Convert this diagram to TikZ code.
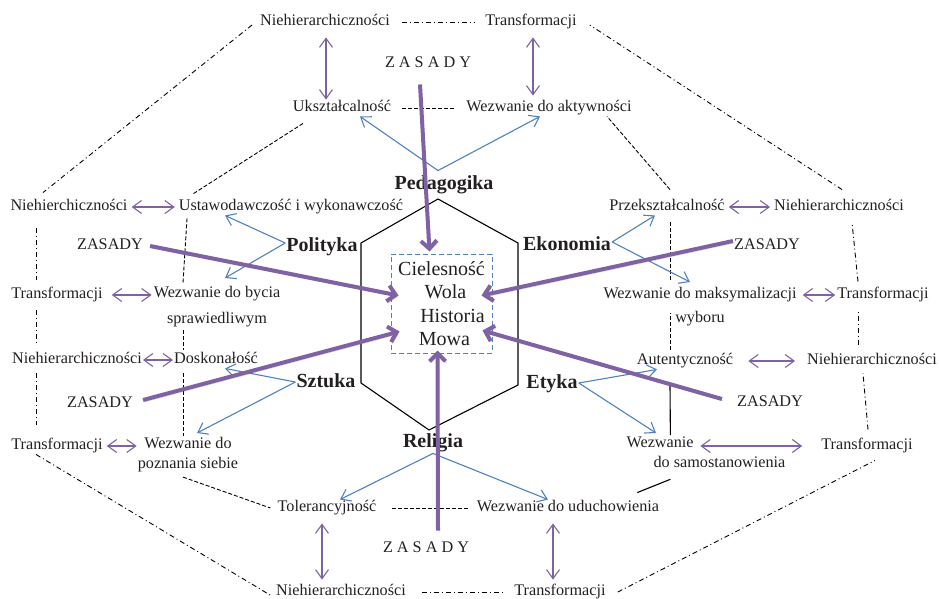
\documentclass[tikz,border=0pt]{standalone}
\usepackage{fontspec}
\setmainfont{Liberation Serif}
\usetikzlibrary{arrows.meta}
\definecolor{callBlue}{HTML}{4F81BD}
\definecolor{rulePurple}{HTML}{7F62A3}
\definecolor{inkGray}{HTML}{231F20}
\begin{document}
\begin{tikzpicture}[x=1pt,y=-1pt,%%
  textStyle/.style={inner sep=1pt,text=inkGray,font=\fontsize{16.2}{20}\selectfont,text height=11pt,text depth=3.5pt},%%
  wrapStyle/.style={inner sep=1pt,text=inkGray,font=\fontsize{16.2}{20}\selectfont,align=center,anchor=north},%%
  fieldStyle/.style={inner sep=1pt,text=inkGray,font=\fontsize{20}{24}\selectfont\bfseries,text height=14pt,text depth=4.5pt},%%
  coreStyle/.style={draw=callBlue,line width=1pt,dash pattern=on 5pt off 3pt,minimum width=101pt,minimum height=99pt,inner sep=0pt,text=inkGray,font=\fontsize{20}{23.5}\selectfont,align=center},%%
  hexStyle/.style={black,line width=1.1pt,line join=miter},%%
  ringStyle/.style={black,line width=0.9pt,dash pattern=on 4pt off 2pt},%%
  solidStyle/.style={black,line width=1.1pt},%%
  outerStyle/.style={black,line width=0.9pt,dash pattern=on 5pt off 3pt on 1pt off 3pt},%%
  callStyle/.style={callBlue,line width=1.1pt,-{Straight Barb[length=9pt,width=13pt]}},%%
  pairStyle/.style={rulePurple,line width=1.1pt,shorten <=3pt,shorten >=3pt,{Straight Barb[length=9pt,width=13pt]}-{Straight Barb[length=9pt,width=13pt]}},%%
  ruleStyle/.style={rulePurple,line width=4pt,-{Straight Barb[length=8pt,width=16pt]},%%
    preaction={draw=black,opacity=0.18,transform canvas={shift={(1.5pt,-2pt)}}}}
]
\useasboundingbox (0,0) rectangle (939,599);
%%
%% The hexagon and its core.
\draw[hexStyle] (438,199) -- (518,243) -- (518,385) -- (429,430) -- (361,383) -- (361,243) -- cycle;
\node[coreStyle] (core) at (441.5,303.5) {Cielesność\\\hspace*{8pt}Wola\\\hspace*{22pt}Historia\\\hspace*{6pt}Mowa};
%%
%% Fields at the corners.
\node[fieldStyle] (peda) at (444,185) {Pedagogika};
\node[fieldStyle] (pol) at (322,247) {Polityka};
\node[fieldStyle] (eko) at (567,246) {Ekonomia};
\node[fieldStyle] (szt) at (326,383) {Sztuka};
\node[fieldStyle] (ety) at (552,384) {Etyka};
\node[fieldStyle] (rel) at (433,443) {Religia};
%%
%% Top.
\node[textStyle] (nhTop) at (325,22) {Niehierarchiczności};
\node[textStyle] (trTop) at (531,22) {Transformacji};
\node[textStyle] (zasTop) at (428,64) {Z A S A D Y};
\node[textStyle] (uksz) at (342,108) {Ukształcalność};
\node[textStyle] (akt) at (549,108) {Wezwanie do aktywności};
%%
%% Left.
\node[textStyle] (nhL1) at (69,207) {Niehierchiczności};
\node[textStyle] (ustaw) at (291,207) {Ustawodawczość i wykonawczość};
\node[textStyle] (zasL1) at (110,246) {ZASADY};
\node[textStyle] (trL1) at (57,295) {Transformacji};
\node[wrapStyle] (byc) at (217,285) {Wezwanie do bycia\\[6pt]sprawiedliwym};
\node[textStyle] (nhL2) at (77,360) {Niehierarchiczności};
\node[textStyle] (dosk) at (216,360) {Doskonałość};
\node[textStyle] (zasL2) at (100,404) {ZASADY};
\node[textStyle] (trL2) at (57,446) {Transformacji};
\node[wrapStyle] (pozn) at (188,436) {Wezwanie do\\poznania siebie};
%%
%% Bottom.
\node[textStyle] (tol) at (327,508) {Tolerancyjność};
\node[textStyle] (udu) at (568,508) {Wezwanie do uduchowienia};
\node[textStyle] (zasBot) at (426,549) {Z A S A D Y};
\node[textStyle] (nhBot) at (341,592) {Niehierarchiczności};
\node[textStyle] (trBot) at (560,592) {Transformacji};
%%
%% Right.
\node[textStyle] (prz) at (667,207) {Przekształcalność};
\node[textStyle] (nhR1) at (839,207) {Niehierarchiczności};
\node[textStyle] (zasR1) at (767,246) {ZASADY};
\node[wrapStyle] (maks) at (700,286) {Wezwanie do maksymalizacji\\[4pt]wyboru};
\node[textStyle] (trR1) at (883,295) {Transformacji};
\node[textStyle] (aut) at (685,361) {Autentyczność};
\node[textStyle] (nhR2) at (872,361) {Niehierarchiczności};
\node[textStyle] (zasR2) at (770,403) {ZASADY};
\node[wrapStyle,align=left] (sam) at (706,436) {Wezwanie\\\hspace*{27pt}do samostanowienia};
\node[textStyle] (trR2) at (867,446) {Transformacji};
%%
%% Inner ring.
\draw[ringStyle,shorten <=10pt,shorten >=10pt] (uksz.east) -- (akt.west);
\draw[ringStyle] ([xshift=-39pt,yshift=-7pt]uksz.south) -- ([xshift=-99pt,yshift=4pt]ustaw.north);
\draw[ringStyle] ([xshift=-104pt,yshift=-3pt]ustaw.south) -- ([xshift=-34pt,yshift=2pt]byc.north);
\draw[ringStyle] ([xshift=-34pt,yshift=-2pt]byc.south) -- ([xshift=-33pt,yshift=2pt]dosk.north);
\draw[ringStyle] ([xshift=-33pt,yshift=-5pt]dosk.south) -- ([xshift=-5pt]pozn.north);
\draw[ringStyle] ([xshift=-5pt,yshift=-4pt]pozn.south) -- ([xshift=-6pt]tol.west);
\draw[ringStyle,shorten <=14pt,shorten >=8pt] (tol.east) -- (udu.west);
\draw[solidStyle] ([xshift=-23pt,yshift=7pt]udu.north east) -- ([xshift=45pt,yshift=-10pt]sam.south west);
\draw[solidStyle] ([xshift=45pt,yshift=1pt]sam.north west) -- ([xshift=-15pt,yshift=-16pt]aut.south);
\draw[ringStyle] ([xshift=-15pt,yshift=3pt]aut.north) -- ([xshift=-30pt,yshift=14pt]maks.south);
\draw[ringStyle] ([xshift=-30pt,yshift=6pt]maks.north) -- ([xshift=3pt,yshift=-7pt]prz.south);
\draw[ringStyle] ([xshift=3pt,yshift=9pt]prz.north) -- ([xshift=58pt]akt.south);
%%
%% Outer ring.
\draw[outerStyle,shorten <=11pt,shorten >=9pt] (nhTop.east) -- (trTop.west);
\draw[outerStyle] ([xshift=-7pt,yshift=-3pt]nhTop.west) -- ([xshift=-26pt,yshift=6pt]nhL1.north);
\draw[outerStyle] ([xshift=-33pt,yshift=-13pt]nhL1.south) -- ([xshift=-21pt,yshift=7pt]trL1.north);
\draw[outerStyle] ([xshift=-21pt,yshift=-7pt]trL1.south) -- ([xshift=-41pt,yshift=7pt]nhL2.north);
\draw[outerStyle] ([xshift=-41pt,yshift=-5pt]nhL2.south) -- ([xshift=-21pt,yshift=13pt]trL2.north);
\draw[outerStyle] ([xshift=-21pt]trL2.south) -- ([xshift=-5pt,yshift=-3pt]nhBot.west);
\draw[outerStyle,shorten <=15pt,shorten >=8pt] (nhBot.east) -- (trBot.west);
\draw[outerStyle] ([xshift=11pt]trBot.east) -- ([xshift=8pt,yshift=-6pt]trR2.south);
\draw[outerStyle] ([xshift=1pt,yshift=8pt]trR2.north) -- ([xshift=-9pt,yshift=-4pt]nhR2.south);
\draw[outerStyle] ([xshift=-14pt,yshift=8pt]nhR2.north) -- ([xshift=-25pt,yshift=-9pt]trR1.south);
\draw[outerStyle] ([xshift=-25pt,yshift=5pt]trR1.north) -- ([xshift=13pt,yshift=-7pt]nhR1.south);
\draw[outerStyle] ([xshift=3pt,yshift=9pt]nhR1.north) -- ([xshift=12pt,yshift=-3pt]trTop.east);
%%
%% Purple pairs.
\draw[pairStyle,shorten <=7pt,shorten >=0pt] ([xshift=1pt]nhTop.south) -- ([xshift=1pt]nhTop.south |- uksz.north);
\draw[pairStyle,shorten <=7pt,shorten >=4pt] ([xshift=2pt]trTop.south) -- ([xshift=2pt]trTop.south |- akt.north);
\draw[pairStyle] (nhL1.east) -- (ustaw.west);
\draw[pairStyle,shorten <=8pt,shorten >=1pt] (trL1.east) -- (byc.west |- trL1.east);
\draw[pairStyle,shorten <=0pt,shorten >=0pt] (nhL2.east) -- (dosk.west);
\draw[pairStyle,shorten <=3pt,shorten >=0pt] (trL2.east) -- (pozn.west |- trL2.east);
\draw[pairStyle,shorten <=7pt,shorten >=4pt] ([xshift=-5pt]tol.south) -- ([xshift=-5pt]tol.south |- nhBot.north);
\draw[pairStyle,shorten <=7pt,shorten >=4pt] ([xshift=-15pt]udu.south) -- ([xshift=-15pt]udu.south |- trBot.north);
\draw[pairStyle] (prz.east) -- (nhR1.west);
\draw[pairStyle,shorten <=5pt,shorten >=1pt] (maks.east |- trR1.west) -- (trR1.west);
\draw[pairStyle,shorten <=14pt,shorten >=11pt] (aut.east) -- (nhR2.west);
\draw[pairStyle,shorten <=0pt,shorten >=18pt] ([xshift=75pt,yshift=-10pt]sam.north west) -- (trR2.west);
%%
%% Blue calls.
\draw[callStyle] ([xshift=-6pt,yshift=4pt]peda.north) -- ([xshift=18pt]uksz.south);
\draw[callStyle] ([xshift=-6pt,yshift=4pt]peda.north) -- ([xshift=-9pt]akt.south);
\draw[callStyle] ([yshift=4pt]pol.west) -- ([xshift=-66pt]ustaw.south);
\draw[callStyle] ([yshift=4pt]pol.west) -- ([xshift=8pt,yshift=7pt]byc.north);
\draw[callStyle] ([yshift=4pt]eko.east) -- ([xshift=-12pt]prz.south);
\draw[callStyle] ([yshift=4pt]eko.east) -- ([xshift=-10pt,yshift=4pt]maks.north);
\draw[callStyle] ([yshift=1pt]szt.west) -- ([xshift=9pt]dosk.south);
\draw[callStyle] ([yshift=1pt]szt.west) -- ([xshift=9pt,yshift=3pt]pozn.north);
\draw[callStyle] ([yshift=1pt]ety.east) -- ([xshift=-28pt]aut.south);
\draw[callStyle] ([yshift=1pt]ety.east) -- ([xshift=-50pt,yshift=3pt]sam.north);
\draw[callStyle] (rel.south) -- ([xshift=13pt]tol.north);
\draw[callStyle] (rel.south) -- ([xshift=-20pt]udu.north);
%%
%% ZASADY into the core.
\draw[ruleStyle] ([xshift=-8pt,yshift=-12pt]zasTop.south) -- ([xshift=-12pt,yshift=2pt]core.north);
\draw[ruleStyle] ([xshift=6pt]zasL1.east) -- ([xshift=8pt,yshift=8pt]core.west);
\draw[ruleStyle] ([xshift=9pt,yshift=4pt]zasL2.east) -- ([xshift=9pt,yshift=-28pt]core.west);
\draw[ruleStyle] ([yshift=5pt]zasR1.west) -- ([xshift=-11pt,yshift=8pt]core.east);
\draw[ruleStyle] ([xshift=-14pt,yshift=4pt]zasR2.west) -- ([xshift=-10pt,yshift=-27pt]core.east);
\draw[ruleStyle] ([xshift=12pt,yshift=10pt]zasBot.north) -- ([xshift=-4pt,yshift=3pt]core.south);
\end{tikzpicture}
\end{document}
